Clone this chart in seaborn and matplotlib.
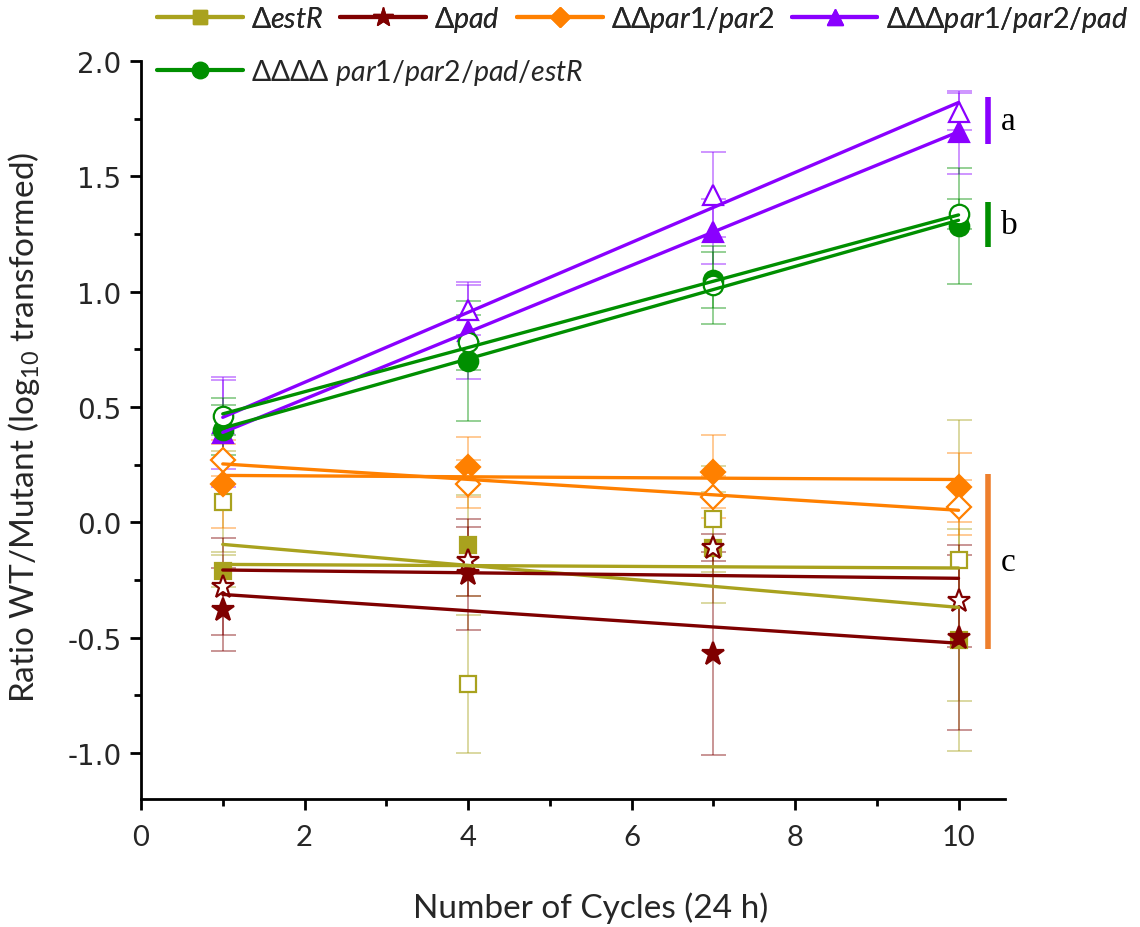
import numpy as np
import pandas as pd
import matplotlib
matplotlib.use("Agg")
import matplotlib.pyplot as plt
from matplotlib.lines import Line2D
from matplotlib.ticker import MultipleLocator, FormatStrFormatter
import seaborn as sns

sns.set_theme(style="white")
plt.rcParams.update({
    "font.family": ["Lato", "DejaVu Sans"],
    "mathtext.fontset": "custom",
    "mathtext.rm": "Lato",
    "mathtext.it": "Lato:italic",
    "axes.unicode_minus": False,
})

cycles = [1, 4, 7, 10]

# ΔestR
estR_filled = [-0.21, -0.10, -0.11, -0.51]
estR_filled_err = [0.07, 0.22, 0.24, 0.48]
estR_open = [0.09, -0.70, 0.013, -0.165]
estR_open_err = [0.22, 0.30, 0.23, 0.61]

# Δpad
pad_filled = [-0.38, -0.225, -0.57, -0.50]
pad_filled_err = [0.18, 0.24, 0.44, 0.40]
pad_open = [-0.28, -0.17, -0.11, -0.34]
pad_open_err = [0.21, 0.15, 0.06, 0.20]

# ΔΔpar1/par2
par12_filled = [0.165, 0.24, 0.22, 0.152]
par12_filled_err = [0.19, 0.13, 0.16, 0.15]
par12_open = [0.27, 0.165, 0.11, 0.065]
par12_open_err = [0.07, 0.105, 0.09, 0.12]

# ΔΔΔpar1/par2/pad
ppp_filled = [0.385, 0.83, 1.26, 1.69]
ppp_filled_err = [0.23, 0.21, 0.14, 0.18]
ppp_open = [0.43, 0.92, 1.42, 1.78]
ppp_open_err = [0.20, 0.11, 0.185, 0.08]

# ΔΔΔΔ par1/par2/pad/estR
quad_filled = [0.40, 0.70, 1.05, 1.285]
quad_filled_err = [0.11, 0.26, 0.12, 0.25]
quad_open = [0.46, 0.78, 1.03, 1.335]
quad_open_err = [0.08, 0.12, 0.17, 0.065]

strains = [
    ("Δ$\\mathit{estR}$", "#A9A21E", "s", 12, estR_filled, estR_filled_err, estR_open, estR_open_err),
    ("Δ$\\mathit{pad}$", "#7F0000", "*", 17, pad_filled, pad_filled_err, pad_open, pad_open_err),
    ("ΔΔ$\\mathit{par1/par2}$", "#FF8000", "D", 12, par12_filled, par12_filled_err, par12_open, par12_open_err),
    ("ΔΔΔ$\\mathit{par1/par2/pad}$", "#8A00FF", "^", 14, ppp_filled, ppp_filled_err, ppp_open, ppp_open_err),
    ("ΔΔΔΔ $\\mathit{par1/par2/pad/estR}$", "#008F00", "o", 14, quad_filled, quad_filled_err, quad_open, quad_open_err),
]

fig = plt.figure(figsize=(11.4, 9.28), dpi=100)
ax = fig.add_axes([0.1237, 0.1379, 0.758, 0.7953])

handles = []
for label, color, marker, ms, yf, ef, yo, eo in strains:
    for vals, errs, filled in ((yf, ef, True), (yo, eo, False)):
        ax.errorbar(cycles, vals, yerr=errs, fmt="none", ecolor=color, alpha=0.45,
                    elinewidth=1.3, capsize=9, capthick=1.3, zorder=2)
        ax.plot(cycles, vals, ls="none", marker=marker, ms=ms,
                mfc=color if filled else "white", mec=color,
                mew=1.6, zorder=3)
        df = pd.DataFrame({"cycle": cycles, "ratio": vals})
        sns.regplot(data=df, x="cycle", y="ratio", ax=ax, scatter=False, ci=None,
                    truncate=True, color=color, line_kws={"lw": 2.4, "zorder": 4})
    handles.append(Line2D([], [], color=color, lw=3, marker=marker,
                          ms=ms * 0.85, mfc=color, mec=color))

ax.set_xlim(0, 10.57)
ax.set_ylim(-1.2, 2.0)
ax.xaxis.set_major_locator(MultipleLocator(2))
ax.xaxis.set_minor_locator(MultipleLocator(1))
ax.yaxis.set_major_locator(MultipleLocator(0.5))
ax.yaxis.set_minor_locator(MultipleLocator(0.25))
ax.yaxis.set_major_formatter(FormatStrFormatter("%.1f"))

for side in ("top", "right"):
    ax.spines[side].set_visible(False)
for side in ("left", "bottom"):
    ax.spines[side].set_color("black")
    ax.spines[side].set_linewidth(2)

ax.tick_params(which="major", direction="out", length=8, width=2, color="black",
               left=True, bottom=True)
ax.tick_params(which="minor", direction="out", length=5, width=2, color="black",
               left=True, bottom=True)
ax.tick_params(axis="x", which="major", labelsize=21, pad=10)
ax.tick_params(axis="y", which="major", labelsize=20, pad=6)
for t in ax.get_yticklabels():
    t.set_family("DejaVu Sans")

ax.set_xlabel("Number of Cycles (24 h)", fontsize=24)
ax.set_ylabel("Ratio WT/Mutant (log$_{10}$ transformed)", fontsize=24)
ax.xaxis.set_label_coords(0.52, -0.125)
ax.yaxis.set_label_coords(-0.115, 0.505)

# significance groups
groups = [("a", "#8A00FF", 1.638, 1.846), ("b", "#008F00", 1.192, 1.387),
          ("c", "#EE7F2D", -0.55, 0.208)]
for letter, color, lo, hi in groups:
    ax.plot([10.36, 10.36], [lo, hi], color=color, lw=4, clip_on=False,
            solid_capstyle="butt")
    ax.text(10.52, (lo + hi) / 2, letter, ha="left", va="center", fontsize=24,
            family="Liberation Serif", color="black", clip_on=False)

legend_kw = dict(loc="upper left", frameon=False, fontsize=20.5, handlelength=3.0,
                 handletextpad=0.3, columnspacing=0.6, borderaxespad=0, borderpad=0)
top_row = fig.legend(handles[:4], [s[0] for s in strains[:4]], ncol=4,
                     bbox_to_anchor=(0.138, 0.995), **legend_kw)
fig.add_artist(top_row)
fig.legend(handles[4:], [strains[4][0]], ncol=1,
           bbox_to_anchor=(0.138, 0.937), **legend_kw)

fig.savefig("out.png", dpi=100)
